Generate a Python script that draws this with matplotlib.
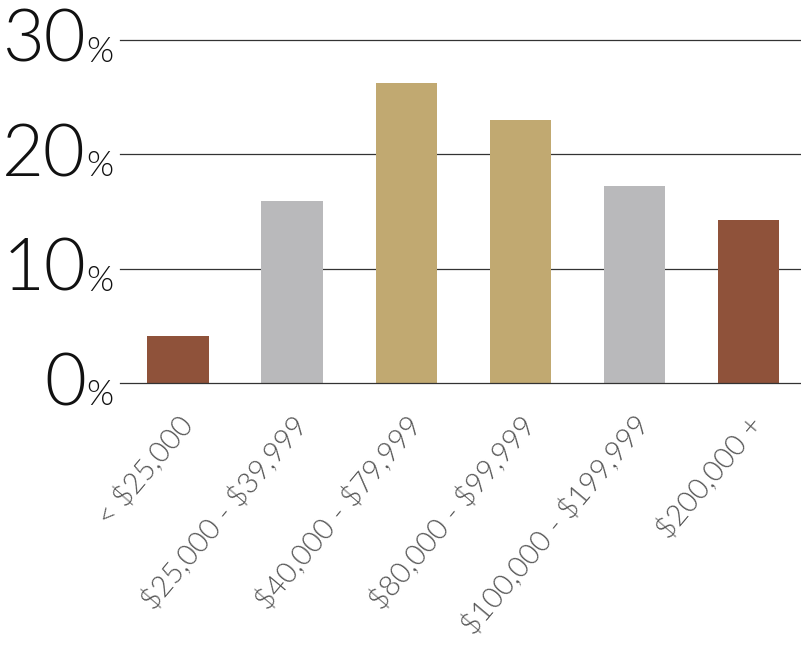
import matplotlib.pyplot as plt
import matplotlib.transforms as mtrans

categories = ['< $25,000', '$25,000 - $39,999', '$40,000 - $79,999',
              '$80,000 - $99,999', '$100,000 - $199,999', '$200,000 +']
values = [4.1, 15.9, 26.2, 23.0, 17.2, 14.3]
colors = ['#8F523A', '#B9B9BB', '#C1A971', '#C1A971', '#B9B9BB', '#8F523A']
yticks = [0, 10, 20, 30]

plt.rcParams['font.family'] = ['Lato', 'DejaVu Sans']
plt.rcParams['text.parse_math'] = False

fig = plt.figure(figsize=(8.01, 6.53), dpi=100)
ax = fig.add_axes([120/801, 1-383/653, 681/801, (383-40)/653])

x = list(range(len(values)))
ax.bar(x, values, width=0.54, color=colors, zorder=2)

ax.set_ylim(0, 30)
ax.set_xlim(-0.51, 5.46)
for v in yticks:
    ax.axhline(v, color='#333333', lw=0.9, zorder=3 if v == 0 else 1, clip_on=False)

for s in ax.spines.values():
    s.set_visible(False)
ax.set_yticks([])
ax.set_xticks(x)
ax.set_xticklabels(categories, rotation=50, ha='right', va='baseline',
                   rotation_mode='anchor', fontsize=21, color='#555555',
                   fontweight=300)
ax.tick_params(axis='x', length=0, pad=0)
# push the rotated labels down/right so their ends sit under the bars
shift = mtrans.ScaledTranslation(17/100, -43/100, fig.dpi_scale_trans)
for lbl in ax.get_xticklabels():
    lbl.set_transform(lbl.get_transform() + shift)

# big number + small "%" for each gridline
tr = ax.get_yaxis_transform()
for v in yticks:
    off = mtrans.offset_copy(tr, fig=fig, x=-34, y=-22, units='dots')
    ax.text(0, v, str(v), transform=off, ha='right', va='baseline',
            fontsize=52, fontweight=300, color='#111111')
    off2 = mtrans.offset_copy(tr, fig=fig, x=-7, y=-22, units='dots')
    ax.text(0, v, '%', transform=off2, ha='right', va='baseline',
            fontsize=25, fontweight=300, color='#111111')

fig.savefig('out.png', dpi=100)
